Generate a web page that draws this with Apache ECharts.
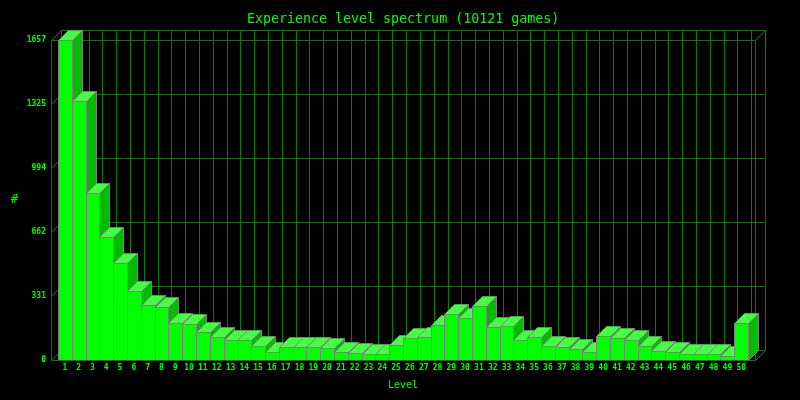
<!DOCTYPE html>
<html><head><meta charset="utf-8">
<style>html,body{margin:0;padding:0;background:#000}#c{width:800px;height:400px}</style>
<script src="https://cdn.jsdelivr.net/npm/echarts@6/dist/echarts.min.js"></script>
</head><body><div id="c"></div>
<script>
const levels = Array.from({length:50},(_,i)=>i+1);
const counts = [1657,1339,865,637,502,356,285,274,192,186,145,119,104,104,72,41,67,67,67,62,41,36,31,31,78,114,119,181,238,217,280,171,176,104,119,72,67,57,41,124,114,104,72,47,41,31,31,31,21,192];
const yMax = 1657;
const yStep = 331.4;
const yTicks = [0,331.4,662.8,994.2,1325.6,1657];
const xSlots = Array.from({length:52},(_,i)=>i);

const DEPTH = 10, FONT = '"DejaVu Sans Mono", monospace';
const GRID = '#008000', TEXT = '#00ff00', EDGE = '#808080';
const px = v => Math.round(v) + 0.5;
const snap = p => [px(p[0]), px(p[1])];
const back = p => [p[0] + DEPTH, p[1] - DEPTH];

function line(p,q){return {type:'line',shape:{x1:p[0],y1:p[1],x2:q[0],y2:q[1]},style:{stroke:GRID,lineWidth:1}};}

function renderFrame(params, api){
  const kind = api.value(0), v = api.value(1);
  if(kind===0){
    const a = snap(api.coord([0,v])), b = snap(api.coord([51,v]));
    return {type:'group',children:[line(back(a),back(b)),line(a,back(a))]};
  }
  const a = snap(api.coord([v,0])), b = snap(api.coord([v,yMax]));
  return line(back(a),back(b));
}
function renderOutline(params, api){
  const bl=snap(api.coord([0,0])), tl=snap(api.coord([0,yMax])), br=snap(api.coord([51,0])), tr=snap(api.coord([51,yMax]));
  return {type:'group',children:[
    line(tl,tr),line(tl,bl),line(tr,br),
    line(br,back(br)),line(tr,back(tr)),line(back(br),back(tr))
  ]};
}
function renderBase(params, api){
  return line(snap(api.coord([0,0])),snap(api.coord([51,0])));
}
function renderBar(params, api){
  const x=api.value(0), v=api.value(1);
  const p0=snap(api.coord([x-0.5,0])), p1=snap(api.coord([x+0.5,v]));
  const l=p0[0], r=p1[0], b=p0[1], t=p1[1];
  const poly=(pts,fill)=>({type:'polygon',shape:{points:pts},style:{fill:fill,stroke:EDGE,lineWidth:1}});
  return {type:'group',children:[
    poly([[r,b],[r+DEPTH,b-DEPTH],[r+DEPTH,t-DEPTH],[r,t]],'#00bb00'),
    poly([[l,t],[l+DEPTH,t-DEPTH],[r+DEPTH,t-DEPTH],[r,t]],'#44ff44'),
    poly([[l,b],[r,b],[r,t],[l,t]],'#00ff00')
  ]};
}

const chart = echarts.init(document.getElementById('c'),null,{renderer:'canvas',devicePixelRatio:1});
chart.setOption({
  animation:false,
  backgroundColor:'#000',
  title:{text:'Experience level spectrum (10121 games)',left:242,top:8,
    textStyle:{color:TEXT,fontFamily:FONT,fontSize:13.3,fontWeight:'normal'}},
  grid:{left:51,right:45,top:40,bottom:40,outerBoundsMode:'none'},
  xAxis:{type:'value',min:0,max:51,interval:1,name:'Level',nameLocation:'middle',nameGap:20,
    nameTextStyle:{color:TEXT,fontFamily:FONT,fontSize:10},
    axisLine:{show:false},axisTick:{show:false},splitLine:{show:false},
    axisLabel:{color:TEXT,fontFamily:FONT,fontSize:8,fontWeight:'bold',margin:4,showMinLabel:false,showMaxLabel:false,
      formatter:v=>levels.includes(v)?String(v):''}},
  yAxis:{type:'value',min:0,max:yMax,interval:yStep,name:'#',nameLocation:'middle',nameGap:33,nameRotate:0,
    nameTextStyle:{color:TEXT,fontFamily:FONT,fontSize:12,padding:[2,0,0,0]},
    axisLine:{show:false},axisTick:{show:false},splitLine:{show:false},
    axisLabel:{color:TEXT,fontFamily:FONT,fontSize:8,fontWeight:'bold',margin:5,formatter:v=>String(Math.floor(v+0.001))}},
  series:[
    {type:'custom',coordinateSystem:'cartesian2d',silent:true,clip:false,z:1,encode:{x:-1,y:-1},renderItem:renderFrame,
      data:[...yTicks.map(v=>[0,v]),...xSlots.map(v=>[1,v])]},
    {type:'custom',coordinateSystem:'cartesian2d',silent:true,clip:false,z:2,encode:{x:-1,y:-1},renderItem:renderOutline,data:[[0,0]]},
    {type:'custom',coordinateSystem:'cartesian2d',silent:true,clip:false,z:3,encode:{x:0,y:1},renderItem:renderBar,
      data:levels.map((l,i)=>[l,counts[i]])},
    {type:'custom',coordinateSystem:'cartesian2d',silent:true,clip:false,z:4,encode:{x:-1,y:-1},renderItem:renderBase,data:[[0,0]]}
  ]
});
</script></body></html>
